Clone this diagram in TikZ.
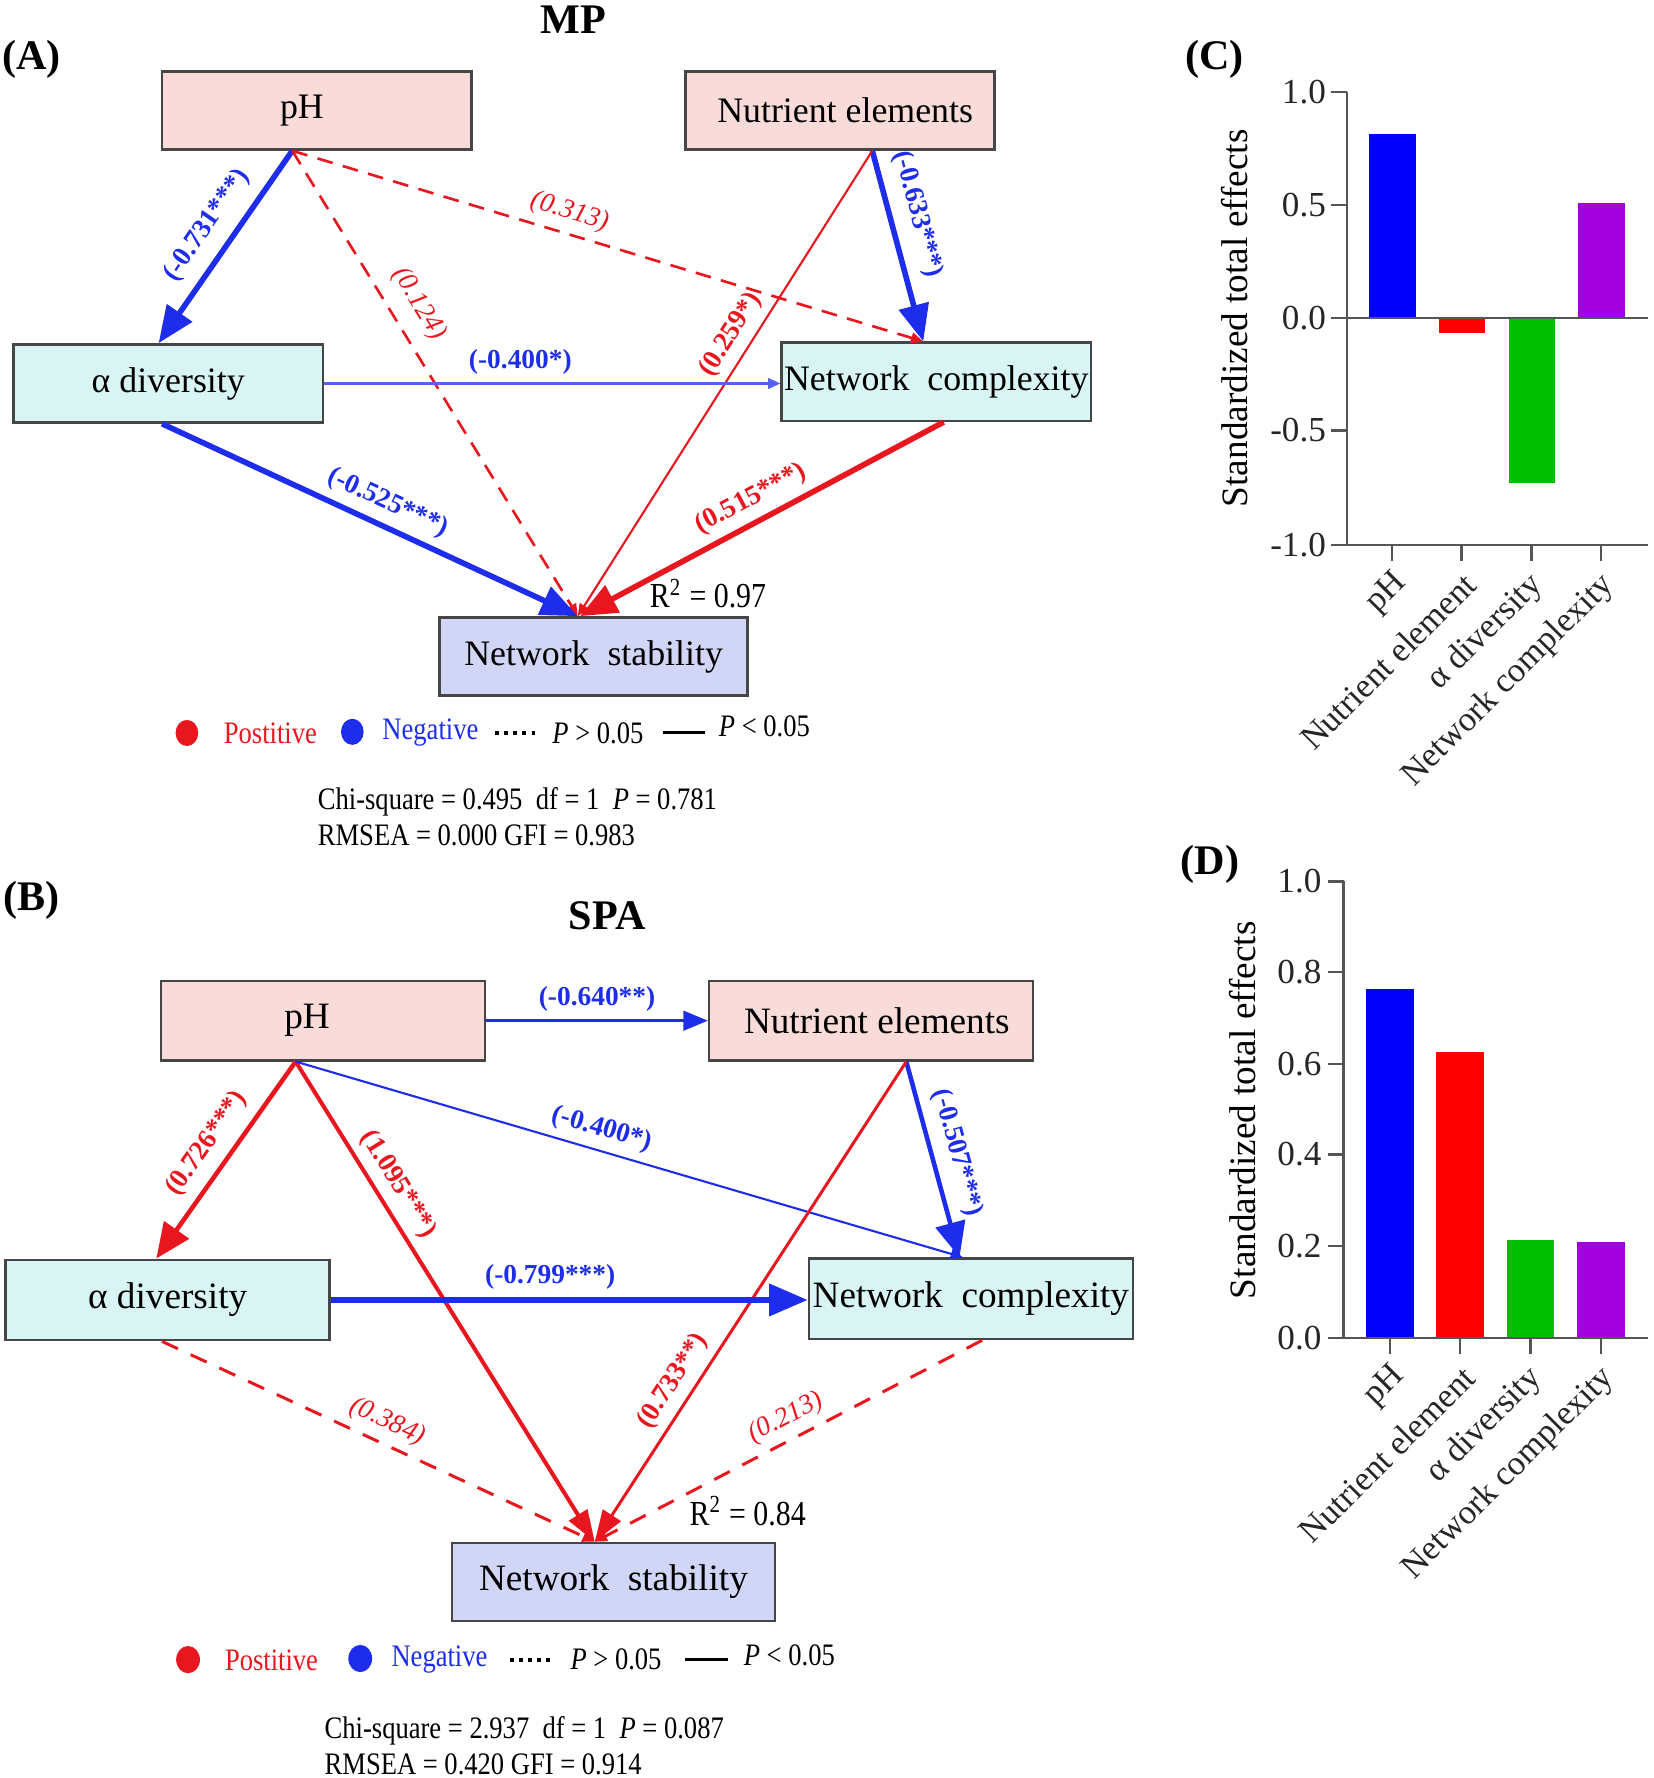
\documentclass[tikz,border=0pt]{standalone}
\usepackage{fontspec}
\setmainfont{Liberation Serif}
\newfontfamily\condf[FakeStretch=0.85]{Liberation Serif}
\usetikzlibrary{arrows.meta,calc}
\newdimen\pxu \pxu=0.01133cm
\definecolor{lred}{RGB}{232,22,30}
\definecolor{lblue}{RGB}{30,45,235}
\definecolor{boxpink}{RGB}{249,220,218}
\definecolor{boxcyan}{RGB}{216,244,243}
\definecolor{boxlav}{RGB}{210,214,246}
\definecolor{barblue}{RGB}{0,0,250}
\definecolor{barred}{RGB}{255,0,0}
\definecolor{bargreen}{RGB}{0,190,0}
\definecolor{barpurple}{RGB}{162,0,222}
\definecolor{axisgray}{RGB}{85,85,85}
\definecolor{boxline}{RGB}{70,70,70}
\tikzset{
  vboxA/.style={draw=boxline, line width=0.7pt, rectangle, inner sep=0pt,
    minimum width=273\pxu, minimum height=69\pxu, font=\fontsize{10.2}{12}\selectfont},
  vboxB/.style={draw=boxline, line width=0.7pt, rectangle, inner sep=0pt,
    minimum width=286\pxu, minimum height=70\pxu, font=\fontsize{10.6}{12}\selectfont},
  thickarr/.style={line width=1.6pt, -{Triangle[length=10.5pt,width=8.5pt]}},
  thickarrB/.style={line width=1.3pt, -{Triangle[length=10pt,width=8.5pt]}},
  bigmed/.style={line width=1.05pt, -{Triangle[length=9pt,width=6pt]}},
  medarr/.style={line width=1.0pt, -{Triangle[length=7pt,width=5.5pt]}},
  thinarr/.style={line width=0.6pt, -{Triangle[length=3.5pt,width=3pt]}},
  dasharr/.style={line width=0.75pt, dash pattern=on 4.5pt off 3pt, -{Triangle[length=3.5pt,width=3pt]}},
  dasharrB/.style={line width=0.85pt, dash pattern=on 5pt off 4pt, -{Triangle[length=3.5pt,width=3pt]}},
  lab/.style={sloped, above, inner sep=2.2pt},
  sig/.style={font=\fontsize{7.8}{9}\selectfont\bfseries},
  nsig/.style={font=\fontsize{7.8}{9}\selectfont\itshape},
  ttl/.style={font=\fontsize{12}{14}\selectfont\bfseries, inner sep=0pt},
  cond/.style={font=\fontsize{8.9}{10}\selectfont\condf, inner sep=0pt},
  axisln/.style={draw=axisgray, line width=0.65pt},
  ticklab/.style={font=\fontsize{10}{12}\selectfont, inner sep=0pt, text=black!85},
  catlab/.style={font=\fontsize{9.8}{12}\selectfont, inner sep=0pt, rotate=45, anchor=east, text=black!85},
  ytitle/.style={font=\fontsize{10.6}{12}\selectfont, inner sep=0pt, rotate=90},
  legdot/.style={line width=1.1pt, dash pattern=on 1.1pt off 1.5pt},
  legline/.style={line width=0.85pt}
}
\begin{document}
\begin{tikzpicture}[x=0.01133cm,y=-0.01133cm]
\useasboundingbox (0,0) rectangle (1460,1569.5);

% ================= Panel A =================
\node[ttl] (tMP) at (506,17) {MP};
\node[ttl] (tA) at (28,52) {(A)};
\node[vboxA, fill=boxpink] (phA) at (279.5,97.5) {\hspace*{-26\pxu}pH};
\node[vboxA, fill=boxpink] (neA) at (741.5,97.5) {\hspace*{9\pxu}Nutrient elements};
\node[vboxA, fill=boxcyan] (aA) at (148.5,338.5) {α diversity};
\node[vboxA, fill=boxcyan] (ncA) at (826.5,337) {Network\ \ complexity};
\node[vboxA, fill=boxlav, minimum width=272\pxu] (nsA) at (524,579.5) {Network\ \ stability};

\draw[thickarr, lblue] ($(phA.south)+(-21.5,0)$) -- ($(aA.north)+(-8.5,0)$)
  node[lab, sig, pos=0.47, inner sep=3.5pt] {(-0.731***)};
\draw[dasharr, lred] ($(phA.south)+(-21.5,0)$) -- ($(nsA.north)+(-14,0)$)
  node[lab, nsig, pos=0.36, inner sep=4pt] {(0.124)};
\draw[dasharr, lred] ($(phA.south)+(-21.5,0)$) -- ($(ncA.north)+(-11.5,0)$)
  node[lab, nsig, pos=0.43] {(0.313)};
\draw[thickarr, lblue] ($(neA.south)+(28.5,0)$) -- ($(ncA.north)+(-11.5,0)$)
  node[lab, sig, pos=0.37, inner sep=3.5pt] {(-0.633***)};
\draw[thinarr, lred] ($(neA.south)+(28.5,0)$) -- ($(nsA.north)+(-14,0)$)
  node[lab, sig, pos=0.42] {(0.259*)};
\draw[thinarr, lblue!75] (aA.east) -- (aA.east -| ncA.west)
  node[lab, sig, pos=0.43, text=lblue] {(-0.400*)};
\draw[thickarr, lblue] ($(aA.south)+(-5.5,0)$) -- ($(nsA.north)+(-14,0)$)
  node[lab, sig, pos=0.52] {(-0.525***)};
\draw[thickarr, lred] ($(ncA.south)+(6.5,0)$) -- ($(nsA.north)+(-12,0)$)
  node[lab, sig, pos=0.5] {(0.515***)};

\node[cond, font=\fontsize{10}{12}\selectfont\condf] (r2A) at (625,524) {R\textsuperscript{2} = 0.97};

% legend A
\fill[lred] (165,647) ellipse [x radius=10, y radius=11.5];
\node[cond, anchor=west, text=lred] (lpA) at (197,647) {Postitive};
\fill[lblue] (311,646) ellipse [x radius=10, y radius=11.5];
\node[cond, anchor=west, text=lblue] (lnA) at (337,647) {Negative};
\draw[legdot] (437,647) -- (476,647);
\node[cond, anchor=west] (lgA) at (487,647) {\textit{P} > 0.05};
\draw[legline] (585,647) -- (622,647);
\node[cond, anchor=west] (llA) at (634,641) {\textit{P} < 0.05};
\node[cond, anchor=west] (s1A) at (280,708) {Chi-square = 0.495\ \ df = 1\ \ \textit{P} = 0.781};
\node[cond, anchor=west] (s2A) at (280,737) {RMSEA = 0.000 GFI = 0.983};

% ================= Panel B =================
\node[ttl] (tB) at (28,795) {(B)};
\node[ttl] (tSPA) at (536,808) {SPA};
\node[vboxB, fill=boxpink] (phB) at (285,901) {\hspace*{-28\pxu}pH};
\node[vboxB, fill=boxpink] (neB) at (769,901) {\hspace*{10\pxu}Nutrient elements};
\node[vboxB, fill=boxcyan, minimum height=71\pxu] (aB) at (148,1147.5) {α diversity};
\node[vboxB, fill=boxcyan, minimum height=71\pxu] (ncB) at (857,1146.5) {Network\ \ complexity};
\node[vboxB, fill=boxlav, minimum width=285\pxu, minimum height=69\pxu] (nsB) at (541.5,1396.5) {Network\ \ stability};

\draw[medarr, lblue] (phB.east) -- (neB.west)
  node[lab, sig, pos=0.5] {(-0.640**)};
\draw[thickarrB, lred] ($(phB.south)+(-24,0)$) -- ($(aB.north)+(-10,0)$)
  node[lab, sig, pos=0.49, inner sep=3pt] {(0.726***)};
\draw[bigmed, lred, line width=1.15pt] ($(phB.south)+(-24,0)$) -- ($(nsB.north)+(-16.5,0)$)
  node[lab, sig, pos=0.28] {(1.095***)};
\draw[thinarr, lblue] ($(phB.south)+(-24,0)$) -- ($(ncB.north)+(-7,0)$)
  node[lab, sig, pos=0.45] {(-0.400*)};
\draw[thickarrB, lblue] ($(neB.south)+(31,0)$) -- ($(ncB.north)+(-10,0)$)
  node[lab, sig, pos=0.5, inner sep=3pt] {(-0.507***)};
\draw[bigmed, lred, line width=0.85pt] ($(neB.south)+(31,0)$) -- ($(nsB.north)+(-16.5,0)$)
  node[lab, sig, pos=0.69] {(0.733**)};
\draw[thickarr, lblue, -{Triangle[length=11pt,width=9pt]}] (aB.east) -- (aB.east -| ncB.west)
  node[lab, sig, pos=0.46] {(-0.799***)};
\draw[dasharrB, lred] ($(aB.south)+(-5,0)$) -- ($(nsB.north)+(-16.5,0)$)
  node[lab, nsig, pos=0.5] {(0.384)};
\draw[dasharrB, lred] ($(ncB.south)+(10,0)$) -- ($(nsB.north)+(-16.5,0)$)
  node[lab, nsig, pos=0.48] {(0.213)};

\node[cond, font=\fontsize{10}{12}\selectfont\condf] (r2B) at (660,1334) {R\textsuperscript{2} = 0.84};

% legend B
\fill[lred] (166,1465) ellipse [x radius=10.5, y radius=12];
\node[cond, anchor=west, text=lred] (lpB) at (198,1466) {Postitive};
\fill[lblue] (318,1464) ellipse [x radius=10.5, y radius=12];
\node[cond, anchor=west, text=lblue] (lnB) at (345,1465) {Negative};
\draw[legdot] (450,1465) -- (490,1465);
\node[cond, anchor=west] (lgB) at (503,1465) {\textit{P} > 0.05};
\draw[legline] (605,1465) -- (643,1465);
\node[cond, anchor=west] (llB) at (656,1461) {\textit{P} < 0.05};
\node[cond, anchor=west] (s1B) at (286,1528) {Chi-square = 2.937\ \ df = 1\ \ \textit{P} = 0.087};
\node[cond, anchor=west] (s2B) at (286,1557) {RMSEA = 0.420 GFI = 0.914};

% ================= Panel C =================
\node[ttl] (tC) at (1072,52) {(C)};
\fill[barblue]   (1208,118) rectangle (1250,281);
\fill[barred]    (1270,281) rectangle (1311,294);
\fill[bargreen]  (1332,281) rectangle (1373,426);
\fill[barpurple] (1393,179) rectangle (1434,281);
\draw[axisln] (1189,81) -- (1189,481);
\draw[axisln] (1175,281) -- (1455,281);
\draw[axisln] (1175,481) -- (1455,481);
\foreach \yy in {81,181,380} {
  \draw[axisln] (1175,\yy) -- (1189,\yy);
}
\foreach \v/\yy/\nm in {1.0/81/c1, 0.5/181/c2, 0.0/281/c3, -0.5/380/c4, -1.0/481/c5} {
  \node[ticklab, anchor=east] (\nm) at (1171,\yy) {\v};
}
\foreach \xx in {1229,1290,1352,1413} {
  \draw[axisln] (\xx,481) -- (\xx,495);
}
\node[catlab] (cx1) at (1238,510) {pH};
\node[catlab] (cx2) at (1298,511) {Nutrient element};
\node[catlab] (cx3) at (1358,512) {α diversity};
\node[catlab] (cx4) at (1421,512) {Network complexity};
\node[ytitle] (cy) at (1090,281) {Standardized total effects};

% ================= Panel D =================
\node[ttl] (tD) at (1068,763) {(D)};
\fill[barblue]   (1206,873) rectangle (1248,1181);
\fill[barred]    (1268,929) rectangle (1310,1181);
\fill[bargreen]  (1330,1095) rectangle (1372,1181);
\fill[barpurple] (1392,1096) rectangle (1434,1181);
\draw[axisln] (1186,778) -- (1186,1181);
\draw[axisln] (1172,1181) -- (1455,1181);
\foreach \yy in {778,858,939,1019,1100} {
  \draw[axisln] (1172,\yy) -- (1186,\yy);
}
\foreach \v/\yy/\nm in {1.0/778/d1, 0.8/858/d2, 0.6/939/d3, 0.4/1019/d4, 0.2/1100/d5, 0.0/1181/d6} {
  \node[ticklab, anchor=east] (\nm) at (1167,\yy) {\v};
}
\foreach \xx in {1227,1289,1351,1413} {
  \draw[axisln] (\xx,1181) -- (\xx,1195);
}
\node[catlab] (dx1) at (1236,1210) {pH};
\node[catlab] (dx2) at (1297,1211) {Nutrient element};
\node[catlab] (dx3) at (1357,1212) {α diversity};
\node[catlab] (dx4) at (1421,1212) {Network complexity};
\node[ytitle] (dy) at (1097,980) {Standardized total effects};
\end{tikzpicture}
\end{document}
